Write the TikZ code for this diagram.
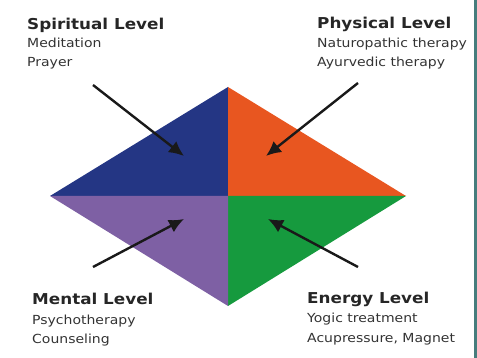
\documentclass[tikz,border=0pt]{standalone}
\usepackage{fontspec}
\newfontfamily\diafont[FakeStretch=1.12]{DejaVu Sans}
\usetikzlibrary{arrows.meta}

\definecolor{quadblue}{RGB}{36,54,132}
\definecolor{quadorange}{RGB}{232,86,32}
\definecolor{quadpurple}{RGB}{126,96,164}
\definecolor{quadgreen}{RGB}{22,154,62}
\definecolor{edgeteal}{RGB}{70,125,125}

\begin{document}
\begin{tikzpicture}[
    x=1pt, y=-1pt,
    head/.style={anchor=base west, inner sep=0pt, text=black!85,
                 font=\diafont\bfseries\fontsize{15}{18}\selectfont},
    item/.style={anchor=base west, inner sep=0pt, text=black!80,
                 font=\diafont\fontsize{12.5}{15}\selectfont},
    pointer/.style={line width=2.4pt, black!90,
                    -{Latex[length=15pt,width=14pt]}}
    ]

    \useasboundingbox (0,0) rectangle (477,358);
    \fill[edgeteal] (474,0) rectangle (477,358);

    % diamond
    \coordinate (C) at (228,196);
    \coordinate (L) at (50,196);
    \coordinate (T) at (228,87);
    \coordinate (R) at (406,196);
    \coordinate (B) at (228,306);
    \foreach \a/\b/\col in {L/T/quadblue, T/R/quadorange,
                            R/B/quadgreen, B/L/quadpurple}
      \fill[\col] (C) -- (\a) -- (\b) -- cycle;

    % labels
    \node[head] (spiritual) at (27,30) {Spiritual Level};
    \node[item] (meditation) at (27,48) {Meditation};
    \node[item] (prayer) at (27,67) {Prayer};

    \node[head] (physical) at (317,29) {Physical Level};
    \node[item] (naturo) at (317,48) {Naturopathic therapy};
    \node[item] (ayurveda) at (317,67) {Ayurvedic therapy};

    \node[head] (mental) at (32,305) {Mental Level};
    \node[item] (psycho) at (32,325) {Psychotherapy};
    \node[item] (counsel) at (32,344) {Counseling};

    \node[head] (energy) at (307,304) {Energy Level};
    \node[item] (yogic) at (307,323) {Yogic treatment};
    \node[item] (acupressure) at (307,342) {Acupressure, Magnet};

    % arrows
    \coordinate (s0) at (93,85);   \coordinate (s1) at (184,156);
    \coordinate (p0) at (358,83);  \coordinate (p1) at (266,156);
    \coordinate (m0) at (93,267);  \coordinate (m1) at (184,219);
    \coordinate (e0) at (358,267); \coordinate (e1) at (268,219);
    \foreach \i in {s,p,m,e}
      \draw[pointer] (\i0) -- (\i1);

\end{tikzpicture}
\end{document}
